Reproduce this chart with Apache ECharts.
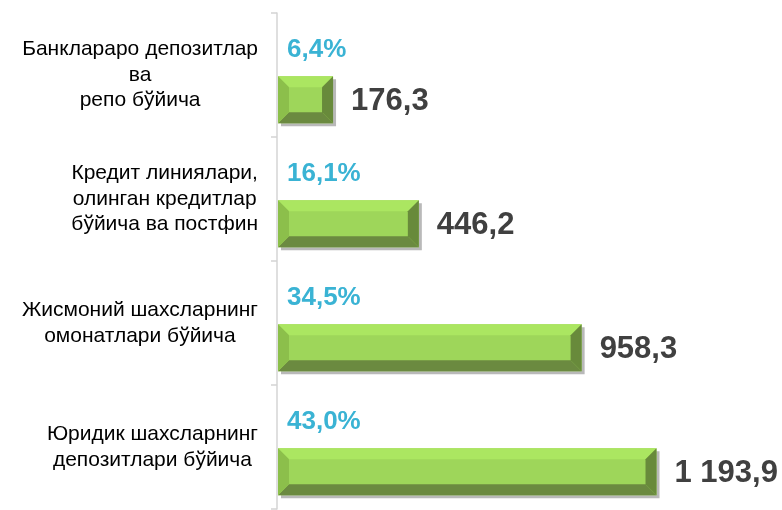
<!DOCTYPE html>
<html>
<head>
<meta charset="utf-8">
<script src="https://cdn.jsdelivr.net/npm/echarts@6/dist/echarts.min.js"></script>
<style>
  html, body { margin: 0; padding: 0; background: #fff; }
  #chart { width: 782px; height: 510px; }
</style>
</head>
<body>
<div id="chart"></div>
<script>
const categories = [
  'Банклараро депозитлар\nва\nрепо бўйича',
  'Кредит линиялари,\nолинган кредитлар\nбўйича ва постфин',
  'Жисмоний шахсларнинг\nомонатлари бўйича',
  'Юридик шахсларнинг\nдепозитлари бўйича'
];
const amounts = [176.3, 446.2, 958.3, 1193.9];
const shares = [6.4, 16.1, 34.5, 43.0];

const FONT = '"Liberation Sans", Arial, sans-serif';

function fmtNum(v, digits) {
  const parts = v.toFixed(digits).split('.');
  const int = parts[0].replace(/\B(?=(\d{3})+(?!\d))/g, ' ');
  return int + ',' + parts[1];
}

// bevelled bar with shadow, like the office chart style
function renderBar(params, api) {
  const i = api.value(0);
  const v = api.value(1);
  const start = api.coord([0, i]);
  const end = api.coord([v, i]);
  const band = api.size([0, 1])[1];
  const h = 47;
  const b = 11;
  const x0 = start[0] + 1;
  const x1 = end[0];
  const yc = start[1] + band * 0.2;
  const y0 = yc - h / 2;
  const y1 = yc + h / 2;
  const poly = (pts, fill) => ({ type: 'polygon', shape: { points: pts }, style: { fill: fill } });
  return {
    type: 'group',
    children: [
      { type: 'rect', shape: { x: x0 + 3, y: y0 + 3, width: x1 - x0, height: h }, style: { fill: '#b9b9b9' } },
      { type: 'rect', shape: { x: x0, y: y0, width: x1 - x0, height: h }, style: { fill: '#9ed65a' } },
      poly([[x0, y0], [x1, y0], [x1 - b, y0 + b], [x0 + b, y0 + b]], '#abe661'),
      poly([[x0, y1], [x1, y1], [x1 - b, y1 - b], [x0 + b, y1 - b]], '#6b8a40'),
      poly([[x0, y0], [x0 + b, y0 + b], [x0 + b, y1 - b], [x0, y1]], '#8cbf4b'),
      poly([[x1, y0], [x1 - b, y0 + b], [x1 - b, y1 - b], [x1, y1]], '#688a3b'),
      {
        type: 'text', x: x0 + 9, y: y0 - 26,
        style: {
          text: fmtNum(shares[i], 1) + '%', fill: '#3ab3d4',
          font: 'bold 26px ' + FONT, verticalAlign: 'middle', align: 'left'
        }
      },
      {
        type: 'text', x: x1 + 18, y: yc + 2,
        style: {
          text: fmtNum(v, 1), fill: '#404040',
          font: 'bold 31px ' + FONT, verticalAlign: 'middle', align: 'left'
        }
      }
    ]
  };
}

const chart = echarts.init(document.getElementById('chart'));
chart.setOption({
  animation: false,
  backgroundColor: '#fff',
  grid: { left: 277, right: 25, top: 13, bottom: 1 },
  xAxis: {
    type: 'value', min: 0, max: 1510,
    show: false
  },
  yAxis: {
    type: 'category',
    inverse: true,
    data: categories,
    axisLine: { show: true, lineStyle: { color: '#d4d4d4', width: 1.5 } },
    axisTick: { show: true, length: 6, lineStyle: { color: '#d4d4d4', width: 1.5 } },
    axisLabel: {
      margin: 19,
      align: 'right',
      formatter: function (val) {
        return val.split('\n').map(s => '{c|' + s + '}').join('\n');
      },
      rich: {
        c: { align: 'center', fontFamily: FONT, fontSize: 21, lineHeight: 25.5, color: '#000' }
      }
    }
  },
  series: [{
    type: 'custom',
    renderItem: renderBar,
    encode: { x: 1, y: 0 },
    data: amounts.map((v, i) => [i, v]),
    clip: false
  }]
});
</script>
</body>
</html>
